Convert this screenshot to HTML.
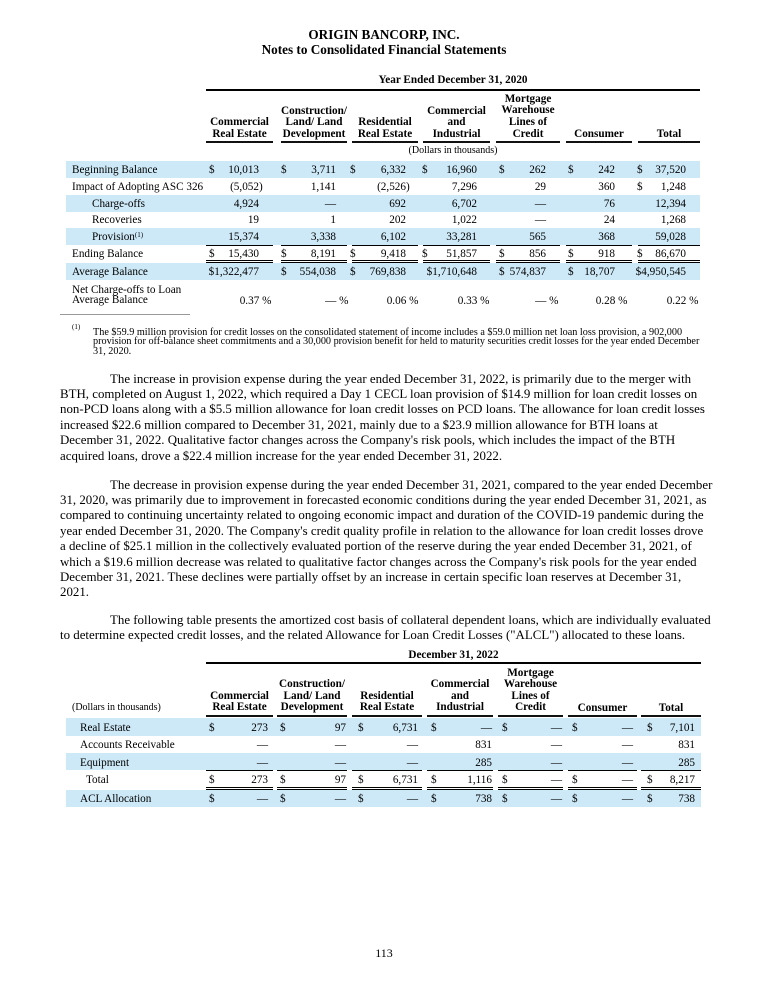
<!DOCTYPE html>
<html><head><meta charset="utf-8">
<style>
body{margin:0;width:768px;height:993px;position:relative;background:#fff;font-family:"Liberation Serif","Times New Roman",serif;color:#000;overflow:hidden}
.a{position:absolute;white-space:nowrap}
.c{font-size:11.2px;line-height:16px}
.h{font-size:11.2px;font-weight:bold;line-height:11.6px;text-align:center}
.bg{position:absolute;background:#cde9f7;left:66px;width:634px}
.ln{position:absolute;height:1px;background:#000}
.ul{position:absolute;height:2px;background:#111}
.dl{position:absolute;height:1px;border-top:1px solid #000;border-bottom:1px solid #000}
.p{position:absolute;left:60px;font-size:12.9px;line-height:15.4px;white-space:nowrap;text-indent:50px}
sup{font-size:7px;vertical-align:top;position:relative;top:-2px}
</style></head><body>

<div class="a" style="top:27px;left:0;width:768px;text-align:center;font-weight:bold;font-size:13.2px;line-height:15px">ORIGIN BANCORP, INC.<br>Notes to Consolidated Financial Statements</div>

<!-- TABLE 1 -->
<div class="a h" style="top:74px;left:206px;width:494px;line-height:12px">Year Ended December 31, 2020</div>
<div class="a" style="top:89px;left:206px;width:494px;height:2px;background:#000"></div>

<div class="a h" style="top:117.1px;left:206px;width:67px">Commercial<br>Real Estate</div>
<div class="a h" style="top:105.5px;left:281px;width:66px">Construction/<br>Land/ Land<br>Development</div>
<div class="a h" style="top:117.1px;left:352px;width:66px">Residential<br>Real Estate</div>
<div class="a h" style="top:105.5px;left:423px;width:67px">Commercial<br>and<br>Industrial</div>
<div class="a h" style="top:93.9px;left:496px;width:64px">Mortgage<br>Warehouse<br>Lines of<br>Credit</div>
<div class="a h" style="top:128.7px;left:566px;width:66px">Consumer</div>
<div class="a h" style="top:128.7px;left:638px;width:62px">Total</div>

<div class="ul" style="top:141px;left:206px;width:67px"></div>
<div class="ul" style="top:141px;left:281px;width:66px"></div>
<div class="ul" style="top:141px;left:352px;width:66px"></div>
<div class="ul" style="top:141px;left:423px;width:67px"></div>
<div class="ul" style="top:141px;left:496px;width:64px"></div>
<div class="ul" style="top:141px;left:566px;width:66px"></div>
<div class="ul" style="top:141px;left:638px;width:62px"></div>

<div class="a" style="top:144.5px;left:206px;width:494px;text-align:center;font-size:10px;line-height:12px">(Dollars in thousands)</div>

<div class="bg" style="top:161px;height:17px"></div>
<div class="bg" style="top:194.5px;height:17px"></div>
<div class="bg" style="top:228px;height:17px"></div>
<div class="bg" style="top:263px;height:16.5px"></div>

<!-- Beginning -->
<div class="a c" style="top:161.5px;left:72px">Beginning Balance</div>
<div class="a c" style="top:161.5px;left:209px">$</div><div class="a c" style="top:161.5px;right:509px">10,013</div>
<div class="a c" style="top:161.5px;left:281px">$</div><div class="a c" style="top:161.5px;right:432px">3,711</div>
<div class="a c" style="top:161.5px;left:350px">$</div><div class="a c" style="top:161.5px;right:362px">6,332</div>
<div class="a c" style="top:161.5px;left:422px">$</div><div class="a c" style="top:161.5px;right:291px">16,960</div>
<div class="a c" style="top:161.5px;left:499px">$</div><div class="a c" style="top:161.5px;right:222px">262</div>
<div class="a c" style="top:161.5px;left:568px">$</div><div class="a c" style="top:161.5px;right:153px">242</div>
<div class="a c" style="top:161.5px;left:637px">$</div><div class="a c" style="top:161.5px;right:82px">37,520</div>

<!-- Impact -->
<div class="a c" style="top:178.5px;left:72px">Impact of Adopting ASC 326</div>
<div class="a c" style="top:178.5px;right:505.3px">(5,052)</div>
<div class="a c" style="top:178.5px;right:432px">1,141</div>
<div class="a c" style="top:178.5px;right:358.3px">(2,526)</div>
<div class="a c" style="top:178.5px;right:291px">7,296</div>
<div class="a c" style="top:178.5px;right:222px">29</div>
<div class="a c" style="top:178.5px;right:153px">360</div>
<div class="a c" style="top:178.5px;left:637px">$</div><div class="a c" style="top:178.5px;right:82px">1,248</div>

<!-- Charge-offs -->
<div class="a c" style="top:195.5px;left:92px">Charge-offs</div>
<div class="a c" style="top:195.5px;right:509px">4,924</div>
<div class="a c" style="top:195.5px;right:432px">—</div>
<div class="a c" style="top:195.5px;right:362px">692</div>
<div class="a c" style="top:195.5px;right:291px">6,702</div>
<div class="a c" style="top:195.5px;right:222px">—</div>
<div class="a c" style="top:195.5px;right:153px">76</div>
<div class="a c" style="top:195.5px;right:82px">12,394</div>

<!-- Recoveries -->
<div class="a c" style="top:212px;left:92px">Recoveries</div>
<div class="a c" style="top:212px;right:509px">19</div>
<div class="a c" style="top:212px;right:432px">1</div>
<div class="a c" style="top:212px;right:362px">202</div>
<div class="a c" style="top:212px;right:291px">1,022</div>
<div class="a c" style="top:212px;right:222px">—</div>
<div class="a c" style="top:212px;right:153px">24</div>
<div class="a c" style="top:212px;right:82px">1,268</div>

<!-- Provision -->
<div class="a c" style="top:228.5px;left:92px">Provision<sup>(1)</sup></div>
<div class="a c" style="top:228.5px;right:509px">15,374</div>
<div class="a c" style="top:228.5px;right:432px">3,338</div>
<div class="a c" style="top:228.5px;right:362px">6,102</div>
<div class="a c" style="top:228.5px;right:291px">33,281</div>
<div class="a c" style="top:228.5px;right:222px">565</div>
<div class="a c" style="top:228.5px;right:153px">368</div>
<div class="a c" style="top:228.5px;right:82px">59,028</div>

<div class="ln" style="top:245px;left:206px;width:67px"></div>
<div class="ln" style="top:245px;left:281px;width:66px"></div>
<div class="ln" style="top:245px;left:352px;width:66px"></div>
<div class="ln" style="top:245px;left:423px;width:67px"></div>
<div class="ln" style="top:245px;left:496px;width:64px"></div>
<div class="ln" style="top:245px;left:566px;width:66px"></div>
<div class="ln" style="top:245px;left:638px;width:62px"></div>

<!-- Ending -->
<div class="a c" style="top:246px;left:72px">Ending Balance</div>
<div class="a c" style="top:246px;left:209px">$</div><div class="a c" style="top:246px;right:509px">15,430</div>
<div class="a c" style="top:246px;left:281px">$</div><div class="a c" style="top:246px;right:432px">8,191</div>
<div class="a c" style="top:246px;left:350px">$</div><div class="a c" style="top:246px;right:362px">9,418</div>
<div class="a c" style="top:246px;left:422px">$</div><div class="a c" style="top:246px;right:291px">51,857</div>
<div class="a c" style="top:246px;left:499px">$</div><div class="a c" style="top:246px;right:222px">856</div>
<div class="a c" style="top:246px;left:568px">$</div><div class="a c" style="top:246px;right:153px">918</div>
<div class="a c" style="top:246px;left:637px">$</div><div class="a c" style="top:246px;right:82px">86,670</div>

<div class="dl" style="top:260px;left:206px;width:67px"></div>
<div class="dl" style="top:260px;left:281px;width:66px"></div>
<div class="dl" style="top:260px;left:352px;width:66px"></div>
<div class="dl" style="top:260px;left:423px;width:67px"></div>
<div class="dl" style="top:260px;left:496px;width:64px"></div>
<div class="dl" style="top:260px;left:566px;width:66px"></div>
<div class="dl" style="top:260px;left:638px;width:62px"></div>

<!-- Average -->
<div class="a c" style="top:263.5px;left:72px">Average Balance</div>
<div class="a c" style="top:263.5px;right:509px">$1,322,477</div>
<div class="a c" style="top:263.5px;left:281px">$</div><div class="a c" style="top:263.5px;right:432px">554,038</div>
<div class="a c" style="top:263.5px;left:350px">$</div><div class="a c" style="top:263.5px;right:362px">769,838</div>
<div class="a c" style="top:263.5px;right:291px">$1,710,648</div>
<div class="a c" style="top:263.5px;left:499px">$</div><div class="a c" style="top:263.5px;right:222px">574,837</div>
<div class="a c" style="top:263.5px;left:568px">$</div><div class="a c" style="top:263.5px;right:153px">18,707</div>
<div class="a c" style="top:263.5px;right:82px">$4,950,545</div>

<!-- Net -->
<div class="a c" style="top:282px;left:72px;line-height:10.8px;padding-top:2.5px">Net Charge-offs to Loan<br>Average Balance</div>
<div class="a c" style="top:292.5px;right:496.6px">0.37 %</div>
<div class="a c" style="top:292.5px;right:419.6px">— %</div>
<div class="a c" style="top:292.5px;right:349.6px">0.06 %</div>
<div class="a c" style="top:292.5px;right:278.6px">0.33 %</div>
<div class="a c" style="top:292.5px;right:209.6px">— %</div>
<div class="a c" style="top:292.5px;right:140.6px">0.28 %</div>
<div class="a c" style="top:292.5px;right:69.6px">0.22 %</div>

<div class="a" style="top:314px;left:60px;width:130px;height:1px;background:#999"></div>
<div class="a" style="top:323px;left:72px;font-size:7px;line-height:8px">(1)</div>
<div class="a" style="top:327.5px;left:93px;font-size:10.2px;line-height:9.9px">The $59.9 million provision for credit losses on the consolidated statement of income includes a $59.0 million net loan loss provision, a 902,000<br>provision for off-balance sheet commitments and a 30,000 provision benefit for held to maturity securities credit losses for the year ended December<br>31, 2020.</div>

<!-- Paragraphs -->
<div class="p" style="top:371.5px">The increase in provision expense during the year ended December 31, 2022, is primarily due to the merger with<br>BTH, completed on August 1, 2022, which required a Day 1 CECL loan provision of $14.9 million for loan credit losses on<br>non-PCD loans along with a $5.5 million allowance for loan credit losses on PCD loans. The allowance for loan credit losses<br>increased $22.6 million compared to December 31, 2021, mainly due to a $23.9 million allowance for BTH loans at<br>December 31, 2022. Qualitative factor changes across the Company's risk pools, which includes the impact of the BTH<br>acquired loans, drove a $22.4 million increase for the year ended December 31, 2022.</div>

<div class="p" style="top:477.5px">The decrease in provision expense during the year ended December 31, 2021, compared to the year ended December<br>31, 2020, was primarily due to improvement in forecasted economic conditions during the year ended December 31, 2021, as<br>compared to continuing uncertainty related to ongoing economic impact and duration of the COVID-19 pandemic during the<br>year ended December 31, 2020. The Company's credit quality profile in relation to the allowance for loan credit losses drove<br>a decline of $25.1 million in the collectively evaluated portion of the reserve during the year ended December 31, 2021, of<br>which a $19.6 million decrease was related to qualitative factor changes across the Company's risk pools for the year ended<br>December 31, 2021. These declines were partially offset by an increase in certain specific loan reserves at December 31,<br>2021.</div>

<div class="p" style="top:613px">The following table presents the amortized cost basis of collateral dependent loans, which are individually evaluated<br>to determine expected credit losses, and the related Allowance for Loan Credit Losses ("ALCL") allocated to these loans.</div>

<!-- TABLE 2 -->
<div class="a h" style="top:649px;left:206px;width:495px;line-height:12px">December 31, 2022</div>
<div class="a" style="top:662px;left:206px;width:495px;height:2px;background:#000"></div>

<div class="a h" style="top:690.9px;left:206px;width:67px">Commercial<br>Real Estate</div>
<div class="a h" style="top:679.3px;left:277px;width:70px">Construction/<br>Land/ Land<br>Development</div>
<div class="a h" style="top:690.9px;left:352px;width:70px">Residential<br>Real Estate</div>
<div class="a h" style="top:679.3px;left:427px;width:66px">Commercial<br>and<br>Industrial</div>
<div class="a h" style="top:667.7px;left:498px;width:65px">Mortgage<br>Warehouse<br>Lines of<br>Credit</div>
<div class="a h" style="top:702.5px;left:568px;width:69px">Consumer</div>
<div class="a h" style="top:702.5px;left:641px;width:60px">Total</div>

<div class="a" style="top:702px;left:72px;font-size:10px;line-height:12px">(Dollars in thousands)</div>

<div class="ul" style="top:715px;left:206px;width:67px"></div>
<div class="ul" style="top:715px;left:277px;width:70px"></div>
<div class="ul" style="top:715px;left:352px;width:70px"></div>
<div class="ul" style="top:715px;left:427px;width:66px"></div>
<div class="ul" style="top:715px;left:498px;width:65px"></div>
<div class="ul" style="top:715px;left:568px;width:69px"></div>
<div class="ul" style="top:715px;left:641px;width:60px"></div>

<div class="bg" style="top:717.5px;height:18px;width:635px"></div>
<div class="bg" style="top:753px;height:17px;width:635px"></div>
<div class="bg" style="top:790px;height:17px;width:635px"></div>

<!-- Real Estate -->
<div class="a c" style="top:719.5px;left:80px">Real Estate</div>
<div class="a c" style="top:719.5px;left:209px">$</div><div class="a c" style="top:719.5px;right:500px">273</div>
<div class="a c" style="top:719.5px;left:280px">$</div><div class="a c" style="top:719.5px;right:422px">97</div>
<div class="a c" style="top:719.5px;left:358px">$</div><div class="a c" style="top:719.5px;right:350px">6,731</div>
<div class="a c" style="top:719.5px;left:431px">$</div><div class="a c" style="top:719.5px;right:276px">—</div>
<div class="a c" style="top:719.5px;left:502px">$</div><div class="a c" style="top:719.5px;right:206px">—</div>
<div class="a c" style="top:719.5px;left:572px">$</div><div class="a c" style="top:719.5px;right:135px">—</div>
<div class="a c" style="top:719.5px;left:647px">$</div><div class="a c" style="top:719.5px;right:73px">7,101</div>

<!-- AR -->
<div class="a c" style="top:737px;left:80px">Accounts Receivable</div>
<div class="a c" style="top:737px;right:500px">—</div>
<div class="a c" style="top:737px;right:422px">—</div>
<div class="a c" style="top:737px;right:350px">—</div>
<div class="a c" style="top:737px;right:276px">831</div>
<div class="a c" style="top:737px;right:206px">—</div>
<div class="a c" style="top:737px;right:135px">—</div>
<div class="a c" style="top:737px;right:73px">831</div>

<!-- Equipment -->
<div class="a c" style="top:754.5px;left:80px">Equipment</div>
<div class="a c" style="top:754.5px;right:500px">—</div>
<div class="a c" style="top:754.5px;right:422px">—</div>
<div class="a c" style="top:754.5px;right:350px">—</div>
<div class="a c" style="top:754.5px;right:276px">285</div>
<div class="a c" style="top:754.5px;right:206px">—</div>
<div class="a c" style="top:754.5px;right:135px">—</div>
<div class="a c" style="top:754.5px;right:73px">285</div>

<div class="ln" style="top:770px;left:206px;width:67px"></div>
<div class="ln" style="top:770px;left:277px;width:70px"></div>
<div class="ln" style="top:770px;left:352px;width:70px"></div>
<div class="ln" style="top:770px;left:427px;width:66px"></div>
<div class="ln" style="top:770px;left:498px;width:65px"></div>
<div class="ln" style="top:770px;left:568px;width:69px"></div>
<div class="ln" style="top:770px;left:641px;width:60px"></div>

<!-- Total -->
<div class="a c" style="top:772px;left:86px">Total</div>
<div class="a c" style="top:772px;left:209px">$</div><div class="a c" style="top:772px;right:500px">273</div>
<div class="a c" style="top:772px;left:280px">$</div><div class="a c" style="top:772px;right:422px">97</div>
<div class="a c" style="top:772px;left:358px">$</div><div class="a c" style="top:772px;right:350px">6,731</div>
<div class="a c" style="top:772px;left:431px">$</div><div class="a c" style="top:772px;right:276px">1,116</div>
<div class="a c" style="top:772px;left:502px">$</div><div class="a c" style="top:772px;right:206px">—</div>
<div class="a c" style="top:772px;left:572px">$</div><div class="a c" style="top:772px;right:135px">—</div>
<div class="a c" style="top:772px;left:647px">$</div><div class="a c" style="top:772px;right:73px">8,217</div>

<div class="dl" style="top:787px;left:206px;width:67px"></div>
<div class="dl" style="top:787px;left:277px;width:70px"></div>
<div class="dl" style="top:787px;left:352px;width:70px"></div>
<div class="dl" style="top:787px;left:427px;width:66px"></div>
<div class="dl" style="top:787px;left:498px;width:65px"></div>
<div class="dl" style="top:787px;left:568px;width:69px"></div>
<div class="dl" style="top:787px;left:641px;width:60px"></div>

<!-- ACL -->
<div class="a c" style="top:790.5px;left:80px">ACL Allocation</div>
<div class="a c" style="top:790.5px;left:209px">$</div><div class="a c" style="top:790.5px;right:500px">—</div>
<div class="a c" style="top:790.5px;left:280px">$</div><div class="a c" style="top:790.5px;right:422px">—</div>
<div class="a c" style="top:790.5px;left:358px">$</div><div class="a c" style="top:790.5px;right:350px">—</div>
<div class="a c" style="top:790.5px;left:431px">$</div><div class="a c" style="top:790.5px;right:276px">738</div>
<div class="a c" style="top:790.5px;left:502px">$</div><div class="a c" style="top:790.5px;right:206px">—</div>
<div class="a c" style="top:790.5px;left:572px">$</div><div class="a c" style="top:790.5px;right:135px">—</div>
<div class="a c" style="top:790.5px;left:647px">$</div><div class="a c" style="top:790.5px;right:73px">738</div>

<div class="a" style="top:945px;left:0;width:768px;text-align:center;font-size:12px;line-height:16px">113</div>

</body></html>
